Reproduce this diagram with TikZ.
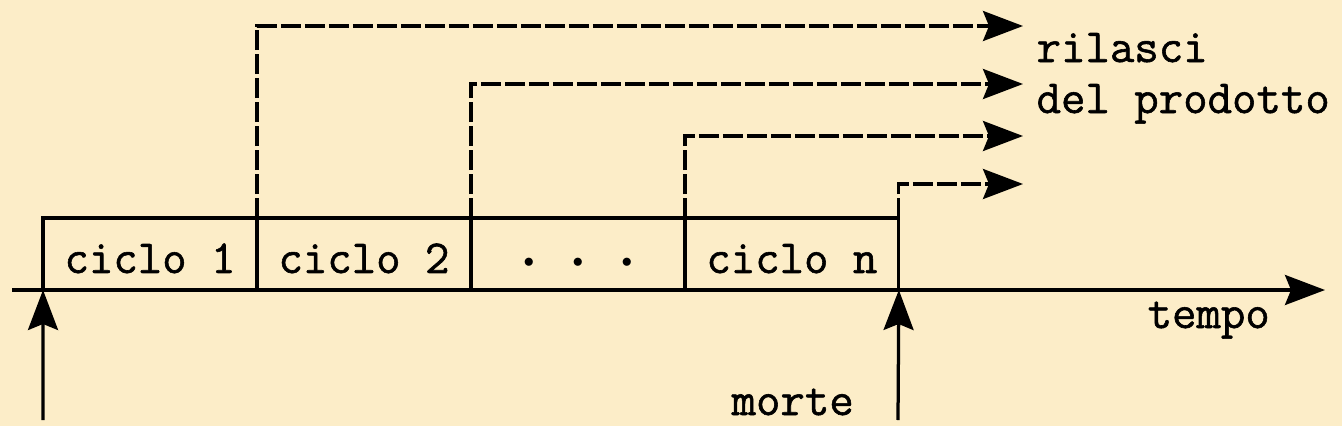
\documentclass[tikz,border=0pt]{standalone}
\usepackage{fontspec}
\newfontfamily\typefont{Latin Modern Mono}[FakeBold=1.2]
\usetikzlibrary{arrows.meta, positioning}
\definecolor{paper}{RGB}{252,237,200}
\newcommand{\rdot}{\raisebox{0.1cm}{\fontsize{13}{13}\selectfont$\bullet$}}

\begin{document}
\begin{tikzpicture}[x=0.02cm, y=-0.02cm, line width=1.85pt,
    mono/.style={font=\fontsize{27}{32}\selectfont\typefont},
    cycle/.style={mono, draw, outer sep=0pt, minimum width=4.28cm, minimum height=1.44cm, inner sep=0pt, text height=0.76cm, text depth=0pt},
    txt/.style={mono, inner sep=0pt, anchor=base west},
    tip/.style={-{Stealth[length=0.8cm, width=0.6cm, inset=0.12cm]}},
    release/.style={tip, dash pattern=on 0.4cm off 0.08cm}]
    \fill[paper] (0,0) rectangle (1342,426);
    \useasboundingbox (0,0) rectangle (1342,426);
    %draws the boxes of the cycles
    \node[cycle] (c1) at (150,254) {ciclo 1};
    \node[cycle, right=0 of c1] (c2) {ciclo 2};
    \node[cycle, right=0 of c2] (cdots) {\rdot\hspace{0.77cm}\rdot\hspace{0.77cm}\rdot};
    \node[cycle, right=0 of cdots] (cn) {ciclo n};
    %draws the time axis
    \coordinate (ax0) at (12,290);
    \coordinate (ax1) at (1325,290);
    \draw[tip] (ax0) -- (ax1);
    \node[txt] (tempo) at (1146,328) {tempo};
    %birth and death arrows
    \coordinate (birth) at (43,420);
    \coordinate (death) at (898,420);
    \draw[tip] (birth) -- (c1.south west);
    \draw[tip] (death) -- (cn.south east);
    \node[txt] (morte) at (730,415) {morte};
    %draws the releases of the product
    \coordinate (r1) at (1023,26);
    \coordinate (r2) at (1023,84);
    \coordinate (r3) at (1023,136);
    \coordinate (r4) at (1023,184);
    \draw[release] (c2.north west) |- (r1);
    \draw[release] (cdots.north west) |- (r2);
    \draw[release] (cn.north west) |- (r3);
    \draw[release] (cn.north east) |- (r4);
    \node[txt] (rilasci) at (1035,62) {rilasci};
    \node[txt] (prodotto) at (1035,113) {del prodotto};
\end{tikzpicture}
\end{document}
